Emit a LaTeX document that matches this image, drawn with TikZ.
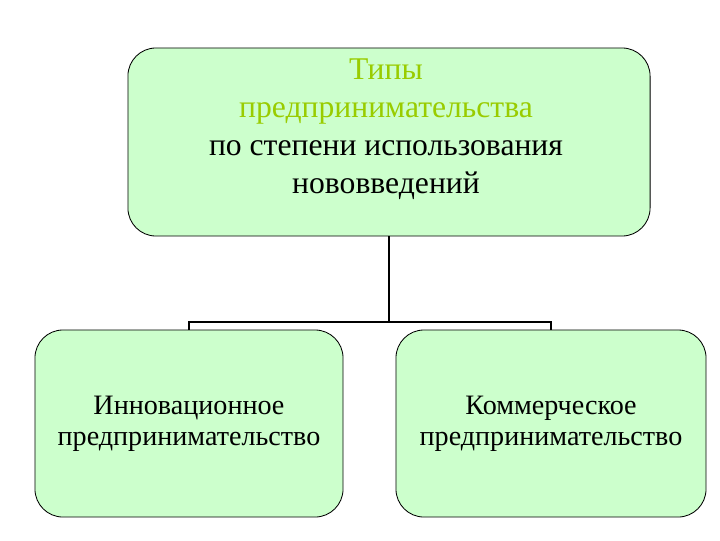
\documentclass[tikz,border=0pt]{standalone}
\usepackage{fontspec}
\setmainfont{Liberation Serif}
\usepackage{xcolor}
\definecolor{boxbg}{RGB}{204,255,204}
\definecolor{titlegreen}{RGB}{153,204,0}

\begin{document}
\begin{tikzpicture}[x=0.025cm,y=-0.025cm,
  every node/.style={font=\fontsize{20}{22}\selectfont},
  typebox/.style={draw,line width=0.6pt,rounded corners=0.7cm,fill=boxbg,align=center}]
  \useasboundingbox (0,0) rectangle (720,540);
  \node[typebox,minimum width=13.05cm,minimum height=4.7cm](top) at(389,142){};
  \node[align=center,font=\fontsize{22.5}{27}\selectfont](toptext) at(386,129){\textcolor{titlegreen}{Типы}\\\textcolor{titlegreen}{предпринимательства}\\по степени использования\\нововведений};
  \node[typebox,minimum width=7.7cm,minimum height=4.675cm](innov) at(189,423.5){Инновационное\\предпринимательство};
  \node[typebox,minimum width=7.75cm,minimum height=4.675cm](komm) at(551,423.5){Коммерческое\\предпринимательство};
  \coordinate (split) at(389,322);
  \draw[line width=1.4pt](top.south)--(split);
  \draw[line width=1.4pt](innov.north)|-(split)-|(komm.north);
\end{tikzpicture}
\end{document}
